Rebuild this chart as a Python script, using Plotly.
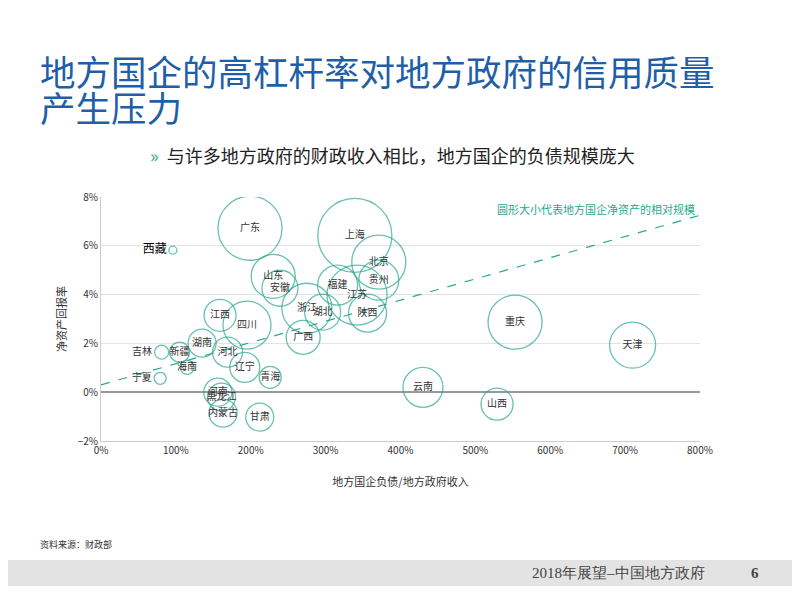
import plotly.graph_objects as go

provinces = ["广东", "西藏", "山东", "安徽", "上海", "北京", "贵州", "福建", "江苏", "陕西",
             "浙江", "湖北", "广西", "江西", "四川", "湖南", "吉林", "新疆", "海南", "河北",
             "辽宁", "青海", "宁夏", "河南", "黑龙江", "内蒙古", "甘肃", "云南", "山西", "重庆", "天津"]
debt_ratio = [199, 96, 230, 239, 339, 371, 371, 316, 342, 356,
              275, 296, 270, 159, 195, 135, 81, 105, 115, 169,
              192, 226, 79, 156, 161, 163, 212, 430, 529, 553, 710]
roe = [6.72, 5.82, 4.75, 4.26, 6.43, 5.33, 4.59, 4.39, 3.98, 3.24,
       3.44, 3.28, 2.25, 3.15, 2.75, 2.01, 1.64, 1.64, 1.02, 1.64,
       1.02, 0.61, 0.57, 0.0, -0.2, -0.86, -1.02, 0.2, -0.49, 2.87, 1.93]
net_assets = [64, 8, 44, 36, 74, 54, 40, 40, 60, 38,
              50, 36, 34, 32, 48, 28, 14, 20, 14, 30,
              30, 22, 12, 28, 28, 28, 28, 40, 32, 54, 46]
trend_x = [0, 800]
trend_y = [0.3, 7.25]

teal = "#2aa88e"
blue = "#1f5fa8"

# the page has an 8px body margin, so everything is placed 8px up/left
OFF = 8

label_pos = ["middle center"] * len(provinces)
for name in ["西藏", "吉林", "宁夏"]:
    label_pos[provinces.index(name)] = "middle left"

fig = go.Figure()
fig.add_trace(go.Scatter(
    x=trend_x, y=trend_y, mode="lines", cliponaxis=False,
    line=dict(color=teal, width=1.2, dash="dash"), hoverinfo="skip"))
fig.add_trace(go.Scatter(
    x=debt_ratio, y=roe, mode="markers+text",
    text=["<span style='font-size:12px;color:#000'>西藏</span>" if p == "西藏" else p for p in provinces],
    textposition=label_pos,
    textfont=dict(size=10, color="#333", family="Noto Sans CJK SC"),
    marker=dict(size=net_assets, sizemode="diameter", color="rgba(0,0,0,0)",
                line=dict(color=teal, width=1.3))))


def px_x(p):
    return (p - 101) / 599


def px_y(p):
    return (441 - p) / 244


fig.update_layout(
    width=800, height=600, showlegend=False,
    paper_bgcolor="white", plot_bgcolor="white",
    margin=dict(l=101 - OFF, r=100 + OFF, t=197 - OFF, b=159 + OFF, autoexpand=False),
    font=dict(family="Noto Sans CJK SC", color="#333"),
    xaxis=dict(range=[0, 800], dtick=100, ticksuffix="%", showgrid=False, zeroline=False,
               automargin=False, showline=True, linecolor="#ccc", tickfont=dict(size=10),
               title=dict(text="地方国企负债/地方政府收入", font=dict(size=11), standoff=22)),
    yaxis=dict(range=[-2, 8], dtick=2, ticksuffix="%", showgrid=True, gridcolor="#e3e3e3",
               zeroline=True, zerolinecolor="#999", zerolinewidth=1.5, automargin=False,
               showline=True, linecolor="#ccc", tickfont=dict(size=10),
               title=dict(text="净资产回报率", font=dict(size=11), standoff=8)),
    annotations=[
        dict(text="地方国企的高杠杆率对地方政府的信用质量", xref="paper", yref="paper",
             x=px_x(38), y=px_y(70), xanchor="left", yanchor="middle",
             showarrow=False, font=dict(size=35.5, color=blue)),
        dict(text="产生压力", xref="paper", yref="paper",
             x=px_x(38), y=px_y(106), xanchor="left", yanchor="middle",
             showarrow=False, font=dict(size=35.5, color=blue)),
        dict(text="<span style='color:#2aa88e'>»</span>  与许多地方政府的财政收入相比，地方国企的负债规模庞大",
             xref="paper", yref="paper", x=px_x(148), y=px_y(155), xanchor="left", yanchor="middle",
             showarrow=False, font=dict(size=18, color="#222")),
        dict(text="圆形大小代表地方国企净资产的相对规模", xref="paper", yref="paper",
             x=0.995, y=0.99, xanchor="right", yanchor="top", showarrow=False,
             font=dict(size=11, color=teal)),
        dict(text="资料来源：财政部", xref="paper", yref="paper", x=px_x(38), y=px_y(544),
             xanchor="left", yanchor="middle", showarrow=False, font=dict(size=9, color="#333")),
        dict(text="2018年展望–中国地方政府", xref="paper", yref="paper", x=px_x(707), y=px_y(573),
             xanchor="right", yanchor="middle", showarrow=False,
             font=dict(size=15, color="#444", family="Liberation Serif")),
        dict(text="<b>6</b>", xref="paper", yref="paper", x=px_x(755), y=px_y(573),
             xanchor="center", yanchor="middle", showarrow=False,
             font=dict(size=15, color="#444", family="Liberation Serif")),
    ],
    shapes=[dict(type="rect", xref="paper", yref="paper", x0=px_x(0), x1=px_x(800),
                 y0=px_y(586), y1=px_y(560), fillcolor="#e3e3e3", line=dict(width=0), layer="below")],
)

fig.write_html("out.html")
